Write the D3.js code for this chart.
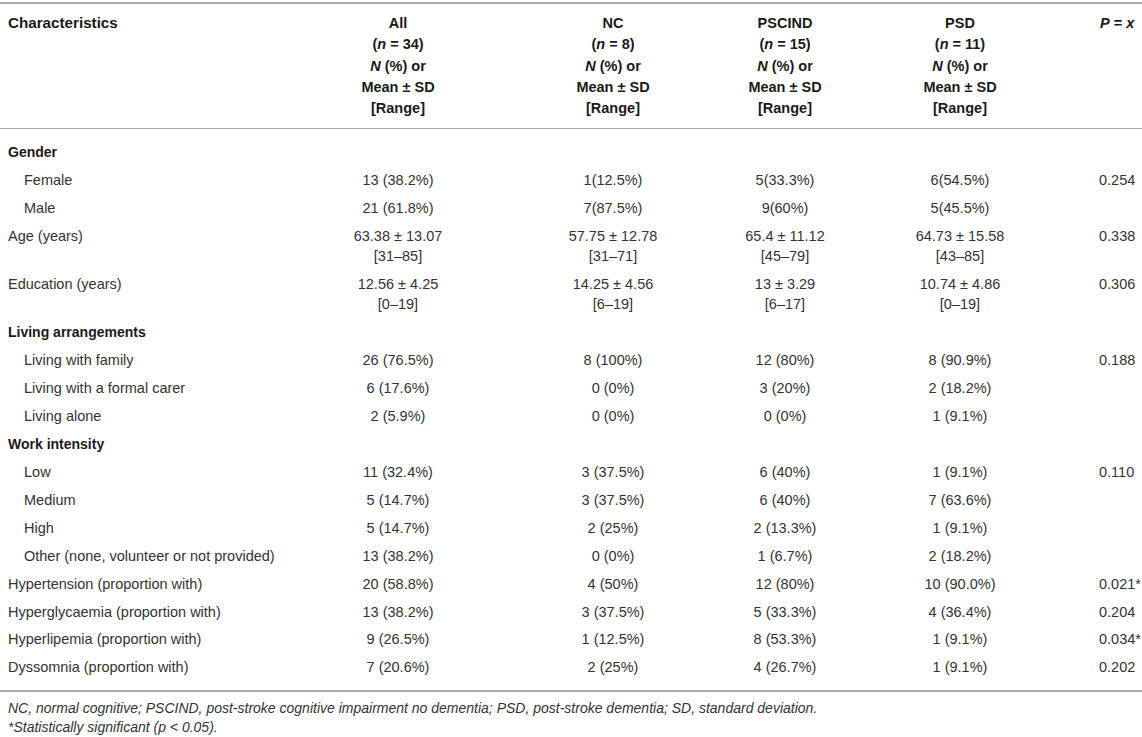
<!DOCTYPE html>
<html>
<head>
<meta charset="utf-8">
<script src="https://cdn.jsdelivr.net/npm/d3@7"></script>
<style>
  html, body { margin: 0; padding: 0; background: #fff; }
  svg { display: block; }
  text { font-family: "Liberation Sans", Arial, Helvetica, sans-serif; }
</style>
</head>
<body>
<svg id="chart" width="1142" height="737"></svg>
<script>
// ---------- DATA ----------
const columns = ["All", "NC", "PSCIND", "PSD", "P"];
const groupNames = ["All", "NC", "PSCIND", "PSD"];
const groupN = ["34", "8", "15", "11"];

// row labels, level: 0 = group heading (bold), 1 = indented item, 2 = plain variable
const rowLabels = [
  "Gender", "Female", "Male", "Age (years)", "Education (years)",
  "Living arrangements", "Living with family", "Living with a formal carer", "Living alone",
  "Work intensity", "Low", "Medium", "High", "Other (none, volunteer or not provided)",
  "Hypertension (proportion with)", "Hyperglycaemia (proportion with)",
  "Hyperlipemia (proportion with)", "Dyssomnia (proportion with)"
];
const rowLevels = [0, 1, 1, 2, 2, 0, 1, 1, 1, 0, 1, 1, 1, 1, 2, 2, 2, 2];

const allVals = ["", "13 (38.2%)", "21 (61.8%)", "63.38 ± 13.07\n[31–85]", "12.56 ± 4.25\n[0–19]",
  "", "26 (76.5%)", "6 (17.6%)", "2 (5.9%)",
  "", "11 (32.4%)", "5 (14.7%)", "5 (14.7%)", "13 (38.2%)",
  "20 (58.8%)", "13 (38.2%)", "9 (26.5%)", "7 (20.6%)"];
const ncVals = ["", "1(12.5%)", "7(87.5%)", "57.75 ± 12.78\n[31–71]", "14.25 ± 4.56\n[6–19]",
  "", "8 (100%)", "0 (0%)", "0 (0%)",
  "", "3 (37.5%)", "3 (37.5%)", "2 (25%)", "0 (0%)",
  "4 (50%)", "3 (37.5%)", "1 (12.5%)", "2 (25%)"];
const pscindVals = ["", "5(33.3%)", "9(60%)", "65.4 ± 11.12\n[45–79]", "13 ± 3.29\n[6–17]",
  "", "12 (80%)", "3 (20%)", "0 (0%)",
  "", "6 (40%)", "6 (40%)", "2 (13.3%)", "1 (6.7%)",
  "12 (80%)", "5 (33.3%)", "8 (53.3%)", "4 (26.7%)"];
const psdVals = ["", "6(54.5%)", "5(45.5%)", "64.73 ± 15.58\n[43–85]", "10.74 ± 4.86\n[0–19]",
  "", "8 (90.9%)", "2 (18.2%)", "1 (9.1%)",
  "", "1 (9.1%)", "7 (63.6%)", "1 (9.1%)", "2 (18.2%)",
  "10 (90.0%)", "4 (36.4%)", "1 (9.1%)", "1 (9.1%)"];
const pVals = ["", "0.254", "", "0.338", "0.306",
  "", "0.188", "", "",
  "", "0.110", "", "", "",
  "0.021*", "0.204", "0.034*", "0.202"];

const footnotes = [
  "NC, normal cognitive; PSCIND, post-stroke cognitive impairment no dementia; PSD, post-stroke dementia; SD, standard deviation.",
  "*Statistically significant (p < 0.05)."
];

// ---------- LAYOUT ----------
const W = 1142, H = 737;
const svg = d3.select("#chart");
const ink = "#1a1a1a", body = "#333333", rule = "#a9a9a9";

const xCol = d3.scaleOrdinal().domain(columns).range([398, 613, 785, 960, 1099]);
const labelX = 8, indentX = 24;

// header lines
const headerY = d3.scaleLinear().domain([0, 4]).range([23, 108]);

// body rows: cumulative offsets computed from number of lines
const valueCols = [allVals, ncVals, pscindVals, psdVals, pVals];
const lineCounts = rowLabels.map((_, i) => d3.max(valueCols, c => c[i].split("\n").length));
const stepNormal = 27.9, stepDouble = 48.3;
const rowY = [];
let acc = 0;
lineCounts.forEach((n, i) => { rowY.push(acc); acc += (n > 1 ? stepDouble : stepNormal); });
const yBody = d3.scaleLinear().domain([0, 100]).range([152, 252]);
const subLine = 20;

// rules
svg.append("line").attr("x1", 0).attr("x2", W).attr("y1", 3).attr("y2", 3)
  .attr("stroke", rule).attr("stroke-width", 2);
svg.append("line").attr("x1", 0).attr("x2", W).attr("y1", 128.5).attr("y2", 128.5)
  .attr("stroke", rule).attr("stroke-width", 1.2);
svg.append("line").attr("x1", 0).attr("x2", W).attr("y1", 691).attr("y2", 691)
  .attr("stroke", rule).attr("stroke-width", 2);

// header
const hdr = svg.append("g").attr("font-weight", "bold").attr("font-size", "14.5px").attr("fill", ink);
hdr.append("text").attr("x", labelX).attr("y", headerY(0)).attr("dy", "0.36em")
  .attr("font-size", "15.2px").text("Characteristics");

function addParts(t, parts) {
  parts.forEach(p => t.append("tspan").attr("font-style", p[1] ? "italic" : "normal").text(p[0]));
}
groupNames.forEach((g, gi) => {
  const x = xCol(g);
  const lines = [
    [[g, false]],
    [["(", false], ["n", true], [" = " + groupN[gi] + ")", false]],
    [["N", true], [" (%) or", false]],
    [["Mean ± SD", false]],
    [["[Range]", false]]
  ];
  lines.forEach((parts, li) => {
    const t = hdr.append("text").attr("x", x).attr("y", headerY(li)).attr("dy", "0.36em")
      .attr("text-anchor", "middle");
    addParts(t, parts);
  });
});
{
  const t = hdr.append("text").attr("x", xCol("P") + 1).attr("y", headerY(0)).attr("dy", "0.36em");
  addParts(t, [["P", true], [" = ", false], ["x", true]]);
}

// body
const bodyG = svg.append("g").attr("font-size", "14.5px").attr("fill", body);
rowLabels.forEach((lab, i) => {
  const y = yBody(rowY[i]);
  const lvl = rowLevels[i];
  bodyG.append("text")
    .attr("x", lvl === 1 ? indentX : labelX)
    .attr("y", y).attr("dy", "0.36em")
    .attr("font-weight", lvl === 0 ? "bold" : "normal")
    .attr("font-size", lvl === 0 ? "14px" : null)
    .attr("fill", lvl === 0 ? ink : body)
    .text(lab);
  valueCols.forEach((col, ci) => {
    const key = columns[ci];
    const lines = col[i].split("\n").filter(s => s.length);
    lines.forEach((s, li) => {
      bodyG.append("text")
        .attr("x", xCol(key))
        .attr("y", y + li * subLine).attr("dy", "0.36em")
        .attr("text-anchor", key === "P" ? "start" : "middle")
        .text(s);
    });
  });
});

// footnotes
const foot = svg.append("g").attr("font-size", "14px").attr("font-style", "italic").attr("fill", body);
const footY = d3.scaleLinear().domain([0, 1]).range([708, 727]);
footnotes.forEach((f, i) => {
  foot.append("text").attr("x", labelX).attr("y", footY(i)).attr("dy", "0.36em").text(f);
});
</script>
</body>
</html>
